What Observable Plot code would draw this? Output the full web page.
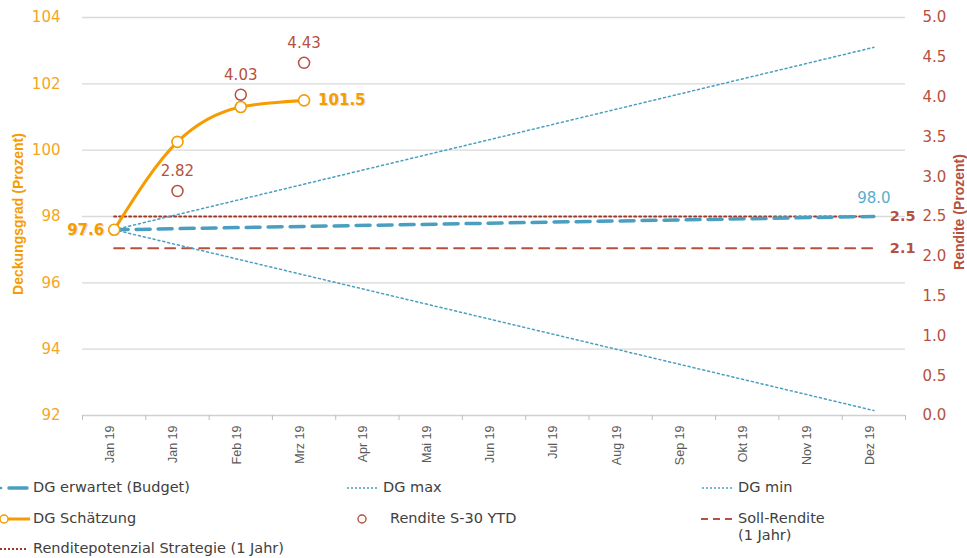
<!DOCTYPE html>
<html><head><meta charset="utf-8">
<script src="https://cdn.jsdelivr.net/npm/d3@7"></script>
<script src="https://cdn.jsdelivr.net/npm/@observablehq/plot@0.6"></script>
<style>
body{margin:0;background:#fff;width:967px;height:558px;overflow:hidden;position:relative;font-family:"DejaVu Sans",sans-serif}
#chart{position:absolute;left:0;top:0}
.ylab{position:absolute;font:bold 14px "Liberation Sans",Arial,sans-serif;white-space:nowrap;transform:translate(-50%,-50%) rotate(-90deg)}
.leg{position:absolute;font-size:14.5px;color:#404040;white-space:nowrap;line-height:17px}
.sw{position:absolute}
</style></head>
<body>
<div id="chart"></div>
<script>
// ---- data ----
const months = ["Jan 19","Jan 19","Feb 19","Mrz 19","Apr 19","Mai 19","Jun 19","Jul 19","Aug 19","Sep 19","Okt 19","Nov 19","Dez 19"];
const schaetzIdx = [0, 1, 2, 3];
const dgSchaetzung = [97.6, 100.25, 101.3, 101.5];
const renditeIdx = [1, 2, 3];
const renditeYTD = [2.82, 4.03, 4.43];
const lineIdx = [0, 12];
const dgErwartet = [97.6, 98.0];
const dgMax = [97.6, 103.1];
const dgMin = [97.6, 92.15];
const sollRendite = [2.1, 2.1];
const renditePotenzial = [2.5, 2.5];
const leftTicks = [92, 94, 96, 98, 100, 102, 104];
const rightTicks = [0, 0.5, 1, 1.5, 2, 2.5, 3, 3.5, 4, 4.5, 5];

// colours
const ORANGE = "#f59c00", ORANGE_T = "#f5a623", RED = "#b5513e", DRED = "#a0392b", BLUE = "#4a9fc0", BLUE_T = "#5aaecb";

// secondary scale (Rendite 0..5) mapped onto the primary (92..104)
const toLeft = r => 92 + r * (12 / 5);
const fromLeft = v => (v - 92) / (12 / 5);

const pts = (xs, ys, f = d => d) => xs.map((x, i) => ({x, y: f(ys[i])}));
const schaetz = pts(schaetzIdx, dgSchaetzung);
const rendite = renditeIdx.map((x, i) => ({x, y: toLeft(renditeYTD[i]), v: renditeYTD[i]}));
const erw = pts(lineIdx, dgErwartet);
const mx = pts(lineIdx, dgMax);
const mn = pts(lineIdx, dgMin);
const soll = pts(lineIdx, sollRendite, toLeft);
const pot = pts(lineIdx, renditePotenzial, toLeft);
const boundaries = months.map((_, i) => i - 0.5).concat([months.length - 0.5]);
const monthRows = months.map((m, i) => ({x: i, m}));

const chart = Plot.plot({
  width: 967, height: 480,
  marginLeft: 82, marginRight: 62, marginTop: 17, marginBottom: 65,
  x: {type: "linear", domain: [-0.5, 12.5]},
  y: {domain: [92, 104]},
  style: {fontFamily: "DejaVu Sans, sans-serif", fontSize: "15px", background: "transparent"},
  marks: [
    Plot.gridY(leftTicks.filter(d => d > 92), {stroke: "#d9d9d9", strokeOpacity: 1, strokeWidth: 1.3}),
    Plot.ruleY([92], {stroke: "#d0d0d0", strokeWidth: 1.3}),
    Plot.axisY(leftTicks, {anchor: "left", tickSize: 0, tickPadding: 22, color: ORANGE_T, fontSize: 15, label: null}),
    Plot.axisY(rightTicks.map(toLeft), {anchor: "right", tickSize: 0, tickPadding: 17, color: RED, fontSize: 15, label: null, tickFormat: v => fromLeft(v).toFixed(1)}),
    Plot.axisX(boundaries, {tickSize: 5, tickFormat: () => "", stroke: "#bfbfbf", label: null}),
    Plot.text(monthRows, {x: "x", frameAnchor: "bottom", text: "m", rotate: -90, textAnchor: "end", dy: 10, fill: "#595959", fontSize: 12.5, fontFamily: "Liberation Sans, Arial, sans-serif"}),
    // Rendite reference lines
    Plot.line(pot, {x: "x", y: "y", stroke: DRED, strokeWidth: 2, strokeDasharray: "2,3"}),
    Plot.line(soll, {x: "x", y: "y", stroke: RED, strokeWidth: 2, strokeDasharray: "10,7"}),
    // DG lines
    Plot.line(mx, {x: "x", y: "y", stroke: BLUE, strokeWidth: 1.5, strokeDasharray: "2,3"}),
    Plot.line(mn, {x: "x", y: "y", stroke: BLUE, strokeWidth: 1.5, strokeDasharray: "2,3"}),
    Plot.line(erw, {x: "x", y: "y", stroke: BLUE, strokeWidth: 3.5, strokeDasharray: "14,8", strokeLinecap: "round"}),
    // Schätzung
    Plot.line(schaetz, {x: "x", y: "y", stroke: ORANGE, strokeWidth: 3, curve: "monotone-x"}),
    Plot.dot(schaetz, {x: "x", y: "y", r: 5.5, stroke: ORANGE, strokeWidth: 1.6, fill: "white"}),
    // Rendite YTD
    Plot.dot(rendite, {x: "x", y: "y", r: 5.5, stroke: RED, strokeWidth: 1.5, fill: "white"}),
    Plot.text(rendite, {x: "x", y: "y", text: d => d.v.toFixed(2), dy: -20, fill: RED, fontSize: 15}),
    // value labels
    Plot.text([schaetz[0]], {x: "x", y: "y", text: d => d.y.toFixed(1), textAnchor: "end", dx: -9, dy: 1, fill: "#dddddd", fontWeight: "bold", fontSize: 15}),
    Plot.text([schaetz[0]], {x: "x", y: "y", text: d => d.y.toFixed(1), textAnchor: "end", dx: -10, fill: ORANGE, fontWeight: "bold", fontSize: 15}),
    Plot.text([schaetz[schaetz.length - 1]], {x: "x", y: "y", text: d => d.y.toFixed(1), textAnchor: "start", dx: 15, dy: 1, fill: "#dddddd", fontWeight: "bold", fontSize: 15}),
    Plot.text([schaetz[schaetz.length - 1]], {x: "x", y: "y", text: d => d.y.toFixed(1), textAnchor: "start", dx: 14, fill: ORANGE, fontWeight: "bold", fontSize: 15}),
    Plot.text([erw[1]], {x: "x", y: "y", text: d => d.y.toFixed(1), dy: -18, fill: BLUE_T, fontSize: 15}),
    Plot.text([pot[1]], {x: "x", y: "y", text: () => renditePotenzial[1].toFixed(1), textAnchor: "start", dx: 16, fill: RED, fontWeight: "bold", fontSize: 14.5}),
    Plot.text([soll[1]], {x: "x", y: "y", text: () => sollRendite[1].toFixed(1), textAnchor: "start", dx: 16, fill: RED, fontWeight: "bold", fontSize: 14.5})
  ]
});
document.getElementById("chart").appendChild(chart);

// axis titles
function addDiv(cls, text, css) {
  const d = document.createElement("div");
  d.className = cls; d.textContent = text;
  Object.assign(d.style, css);
  document.body.appendChild(d);
  return d;
}
addDiv("ylab", "Deckungsgrad (Prozent)", {left: "18px", top: "214px", color: ORANGE});
addDiv("ylab", "Rendite (Prozent)", {left: "959px", top: "212px", color: RED});

// legend
const legendItems = [
  {label: "DG erwartet (Budget)", x: 0, y: 488, sw: `<circle cx="1" cy="5" r="1.3" fill="${BLUE}"/><line x1="9" y1="5" x2="27" y2="5" stroke="${BLUE}" stroke-width="3.5" stroke-linecap="round"/>`},
  {label: "DG max", x: 345, y: 488, sw: `<line x1="2" y1="5" x2="32" y2="5" stroke="${BLUE}" stroke-width="1.5" stroke-dasharray="2,2"/>`},
  {label: "DG min", x: 700, y: 488, sw: `<line x1="2" y1="5" x2="32" y2="5" stroke="${BLUE}" stroke-width="1.5" stroke-dasharray="2,2"/>`},
  {label: "DG Schätzung", x: 0, y: 519, sw: `<line x1="6" y1="5" x2="30" y2="5" stroke="${ORANGE}" stroke-width="3"/><circle cx="4" cy="5" r="4" fill="white" stroke="${ORANGE}" stroke-width="1.5"/>`},
  {label: "Rendite S-30 YTD", x: 357, y: 519, tx: 390, sw: `<circle cx="5" cy="5" r="4" fill="white" stroke="${RED}" stroke-width="1.4"/>`},
  {label: "Soll-Rendite<br>(1 Jahr)", x: 700, y: 519, sw: `<line x1="1" y1="5" x2="36" y2="5" stroke="${RED}" stroke-width="2" stroke-dasharray="7,5"/>`},
  {label: "Renditepotenzial Strategie (1 Jahr)", x: 0, y: 549, sw: `<line x1="0" y1="5" x2="28" y2="5" stroke="${DRED}" stroke-width="2" stroke-dasharray="2,2"/>`}
];
for (const it of legendItems) {
  const s = document.createElementNS("http://www.w3.org/2000/svg", "svg");
  s.setAttribute("width", 40); s.setAttribute("height", 10); s.setAttribute("class", "sw");
  s.style.left = it.x + "px"; s.style.top = (it.y - 5) + "px";
  s.innerHTML = it.sw;
  document.body.appendChild(s);
  const t = document.createElement("div");
  t.className = "leg"; t.innerHTML = it.label;
  const tx = it.tx ?? (it.x === 0 ? 33 : it.x + 38);
  t.style.left = tx + "px"; t.style.top = (it.y - 9) + "px";
  document.body.appendChild(t);
}
</script>
</body></html>
